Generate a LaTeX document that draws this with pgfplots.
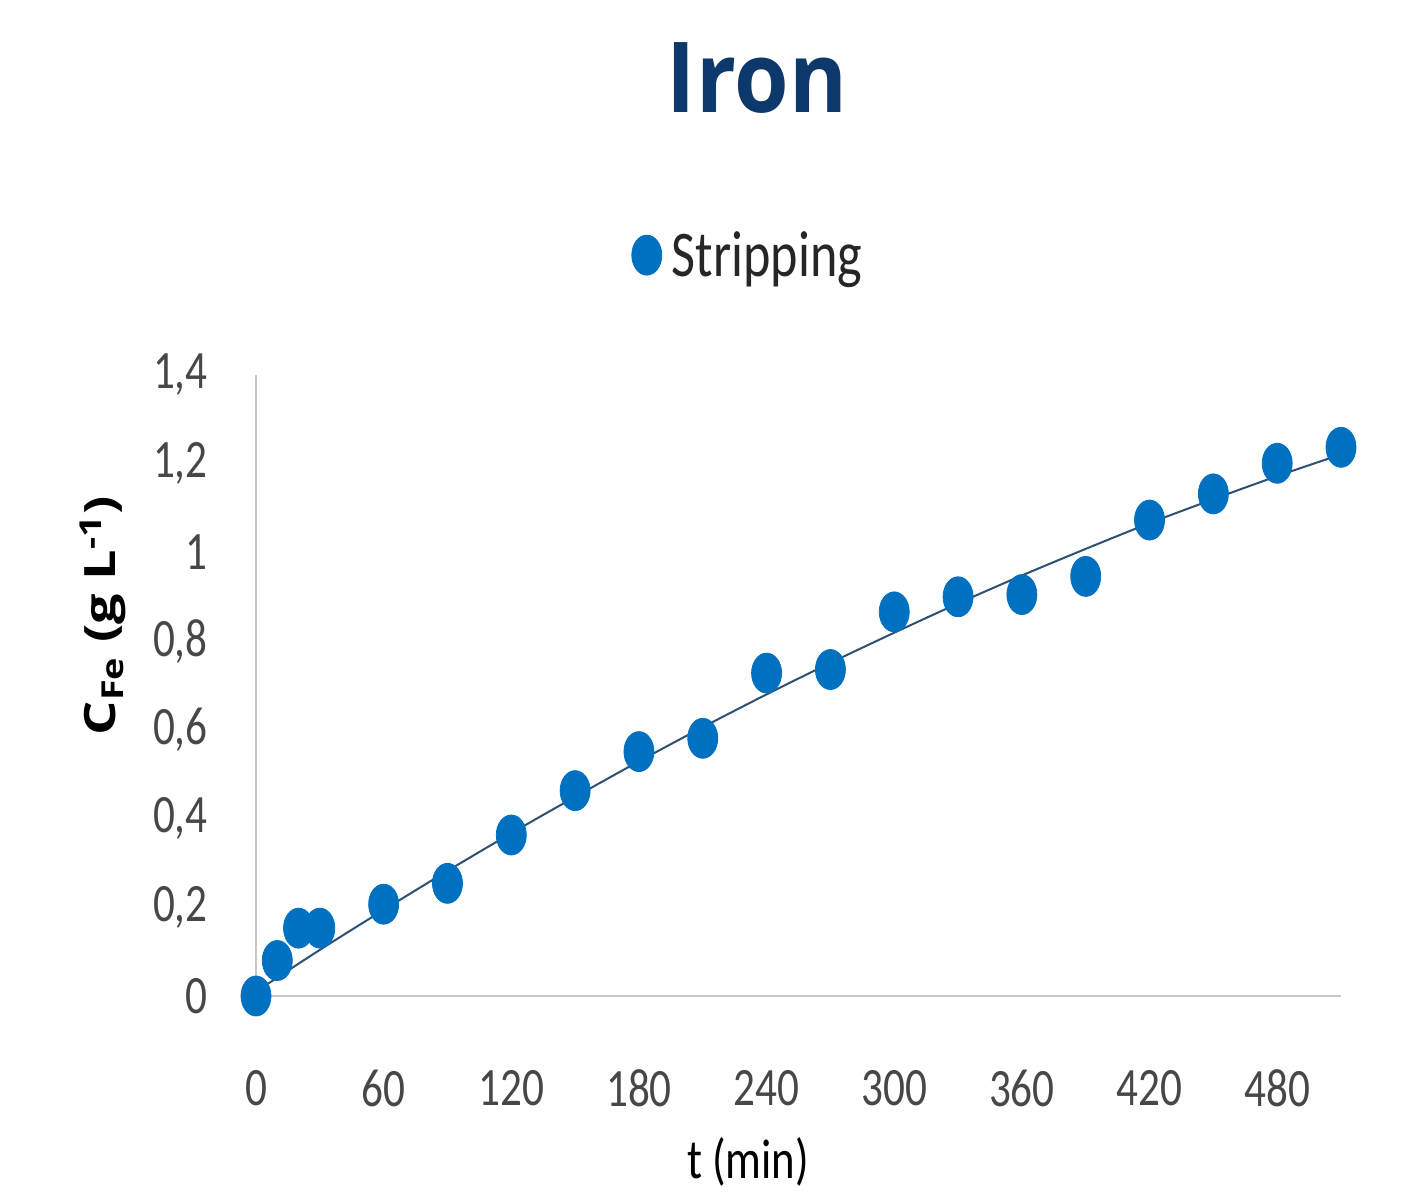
\documentclass[border=0pt]{standalone}
\usepackage{pgfplots}
\pgfplotsset{compat=1.18}
\usepackage{fontspec}
\setmainfont{Carlito}[FakeStretch=0.8]
\newfontfamily\osfont{Open Sans}
\definecolor{ptblue}{RGB}{0,112,192}
\definecolor{trend}{RGB}{45,80,115}
\definecolor{titleblue}{RGB}{12,56,108}
\begin{document}
\begin{tikzpicture}
\useasboundingbox (-128pt,-99.5pt) rectangle (578pt,498pt);
\begin{axis}[
  at={(0pt,0pt)}, anchor=south west,
  width=542.5pt, height=310.5pt, scale only axis,
  xmin=0, xmax=510, ymin=0, ymax=1.4,
  axis lines*=left,
  axis line style={draw=black!22, line width=1pt, -},
  xtick={0,60,120,180,240,300,360,420,480},
  ytick={0,0.2,0.4,0.6,0.8,1,1.2,1.4},
  major tick length=0pt,
  /pgf/number format/assume math mode=true,
  /pgf/number format/use comma,
  tick label style={font=\fontsize{27}{27}\selectfont, text=black!72},
  yticklabel style={anchor=east, inner sep=0pt, xshift=-24pt},
  xticklabel style={anchor=center, inner sep=0pt, yshift=-46pt},
  xlabel={t (min)},
  xlabel style={at={(axis description cs:0.4535,0)}, anchor=base, yshift=-91pt, inner sep=0pt, font=\fontsize{28}{28}\selectfont, text=black},
  ylabel={\scalebox{1}[0.8]{\osfont\bfseries C\textsubscript{Fe} (g L\textsuperscript{-1})}},
  ylabel style={at={(axis description cs:-0.141,0.612)}, anchor=center, font=\fontsize{27}{27}\selectfont},
  clip=false,
  legend style={draw=none, fill=none, inner sep=0pt,
    at={(axis description cs:0.346,1.193)}, anchor=west,
    font=\fontsize{32.6}{33}\selectfont, text=black!85,
    nodes={inner sep=5pt}},
  legend image code/.code={\draw[mark repeat=2,mark phase=2,#1] plot coordinates {(0pt,0pt) (8pt,0pt) (16pt,0pt)};},
]
\addplot[trend, line width=1pt, smooth, forget plot] coordinates {
(0,0.010) (30,0.104) (60,0.194) (90,0.282) (120,0.367) (150,0.449)
(180,0.529) (210,0.606) (240,0.680) (270,0.751) (300,0.819) (330,0.885)
(360,0.948) (390,1.008) (420,1.066) (450,1.120) (480,1.172) (510,1.221)
};
\addplot[only marks, mark=*, mark size=10pt, color=ptblue,
  mark options={xscale=0.75, fill=ptblue, draw=ptblue}] coordinates {
(0,0) (10,0.080) (20,0.153) (30,0.153) (60,0.207) (90,0.254)
(120,0.363) (150,0.463) (180,0.551) (210,0.581) (240,0.728) (270,0.736)
(300,0.866) (330,0.900) (360,0.905) (390,0.946) (420,1.073) (450,1.132)
(480,1.201) (510,1.237)
};
\addlegendentry{Stripping}
\end{axis}
\node[font=\osfont\bfseries\fontsize{49}{49}\selectfont, text=titleblue, xscale=0.9] at (250.5pt,459pt) {Iron};
\end{tikzpicture}
\end{document}
